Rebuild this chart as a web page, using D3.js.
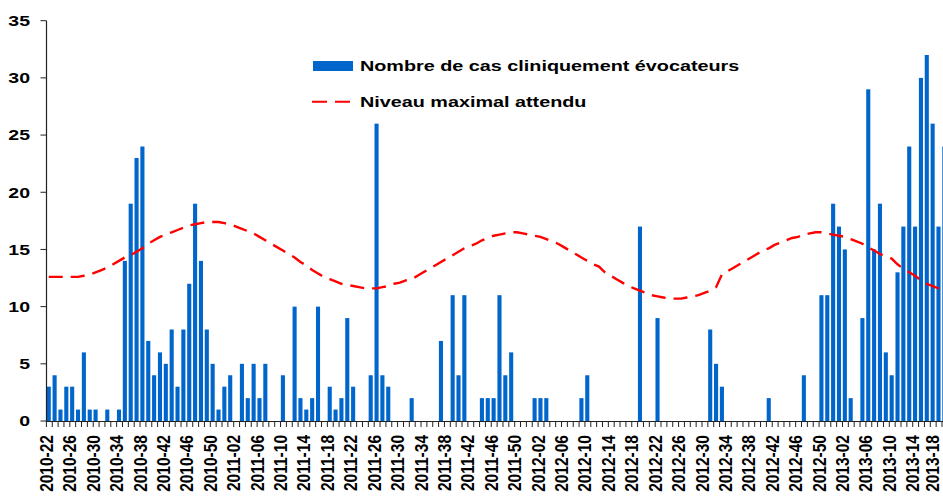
<!DOCTYPE html>
<html>
<head>
<meta charset="utf-8">
<script src="https://cdn.jsdelivr.net/npm/d3@7"></script>
<style>
  html, body { margin: 0; padding: 0; background: #fff; }
  svg { display: block; font-family: "Liberation Sans", Arial, sans-serif; font-weight: bold; }
</style>
</head>
<body>
<svg id="chart" width="943" height="496"></svg>
<script>
// ---- Data ----
const weekRanges = [[2010, 22, 52], [2011, 1, 52], [2012, 1, 52], [2013, 1, 19]];

const cases2010 = [3,4,1,3,3,1,6,1,1,0,1,0,1,14,19,23,24,7,4,6,5,8,3,8,12,19,14,8,5,1,3];
const cases2011 = [4,0,5,2,5,2,5,0,0,4,0,10,2,1,2,10,0,3,1,2,9,3,0,0,4,26,4,3,0,0,0,2,0,0,0,0,7,0,11,4,11,0,0,2,2,2,11,4,6,0,0,0];
const cases2012 = [2,2,2,0,0,0,0,0,2,4,0,0,0,0,0,0,0,0,17,0,0,9,0,0,0,0,0,0,0,0,8,5,3,0,0,0,0,0,0,0,2,0,0,0,0,0,4,0,0,11,11,19];
const cases2013 = [17,15,2,0,9,29,15,19,6,4,13,17,24,17,30,32,26,17,24];

const seuil2010 = [12.6,12.6,12.6,12.6,12.6,12.6,12.7,12.8,13.0,13.2,13.4,13.7,14.0,14.3,14.5,14.8,15.1,15.5,15.8,16.1,16.3,16.5,16.7,16.9,17.1,17.2,17.3,17.4,17.4,17.4,17.3];
const seuil2011 = [17.2,17.0,16.8,16.6,16.4,16.1,15.8,15.5,15.2,14.9,14.6,14.3,13.9,13.6,13.2,12.9,12.6,12.4,12.2,12.0,11.9,11.8,11.7,11.6,11.6,11.6,11.7,11.8,12.0,12.1,12.3,12.4,12.7,13.0,13.3,13.6,13.9,14.2,14.5,14.8,15.1,15.3,15.5,15.8,16.0,16.2,16.3,16.4,16.5,16.5,16.4,16.3];
const seuil2012 = [16.2,16.1,15.9,15.7,15.5,15.2,14.9,14.6,14.3,14.0,13.7,13.5,13.0,12.7,12.4,12.1,11.8,11.6,11.4,11.2,11.0,10.9,10.8,10.7,10.7,10.7,10.8,10.9,11.0,11.2,11.4,11.7,12.8,13.1,13.4,13.7,14.0,14.3,14.6,14.9,15.1,15.4,15.6,15.8,16.0,16.1,16.3,16.4,16.5,16.5,16.4,16.3];
const seuil2013 = [16.2,16.1,15.9,15.7,15.5,15.2,14.9,14.6,14.4,14.2,13.7,13.3,13.0,12.7,12.3,12.0,11.8,11.6,11.4];

const yTicks = [0,5,10,15,20,25,30,35];
const tickLabels = ["2010-22","2010-26","2010-30","2010-34","2010-38","2010-42","2010-46","2010-50",
  "2011-02","2011-06","2011-10","2011-14","2011-18","2011-22","2011-26","2011-30","2011-34","2011-38","2011-42","2011-46","2011-50",
  "2012-02","2012-06","2012-10","2012-14","2012-18","2012-22","2012-26","2012-30","2012-34","2012-38","2012-42","2012-46","2012-50",
  "2013-02","2013-06","2013-10","2013-14","2013-18"];

const legendLabels = ["Nombre de cas cliniquement évocateurs", "Niveau maximal attendu"];

// ---- Build table ----
const weeks = [];
weekRanges.forEach(([y, a, b]) => { for (let w = a; w <= b; w++) weeks.push(y + "-" + String(w).padStart(2, "0")); });
const cases = [].concat(cases2010, cases2011, cases2012, cases2013);
const seuil = [].concat(seuil2010, seuil2011, seuil2012, seuil2013);
const data = weeks.map((w, i) => ({ week: w, cases: cases[i], seuil: seuil[i] }));

// ---- Chart ----
const W = 943;
const svg = d3.select("#chart");
const blue = "#0066cc";

const x = d3.scaleBand().domain(weeks).range([46, 947.1]).paddingInner(0.3).paddingOuter(0.12).align(0.5);
const y = d3.scaleLinear().domain([0, 35]).range([421, 20.7]);

// bars
svg.append("g").selectAll("rect").data(data.filter(d => d.cases > 0)).join("rect")
  .attr("x", d => x(d.week))
  .attr("y", d => y(d.cases))
  .attr("width", x.bandwidth())
  .attr("height", d => y(0) - y(d.cases))
  .attr("fill", blue);

// threshold line
const line = d3.line().x(d => x(d.week) + x.bandwidth() / 2).y(d => y(d.seuil));
svg.append("path").datum(data).attr("d", line)
  .attr("fill", "none").attr("stroke", "#ff0000").attr("stroke-width", 2.4)
  .attr("stroke-dasharray", "14,8");

// y axis
const gy = svg.append("g");
gy.append("line").attr("x1", 46.5).attr("x2", 46.5).attr("y1", y(35)).attr("y2", y(0)).attr("stroke", "#222").attr("stroke-width", 1.2);
gy.selectAll("line.t").data(yTicks).join("line").attr("class", "t")
  .attr("x1", 40.5).attr("x2", 46.5).attr("y1", d => y(d)).attr("y2", d => y(d)).attr("stroke", "#222");
gy.selectAll("text").data(yTicks).join("text")
  .attr("transform", d => `translate(30,${y(d)}) scale(1.3,1)`)
  .attr("text-anchor", "end").attr("dy", "0.36em")
  .attr("font-size", 15).attr("fill", "#000")
  .text(d => d);

// x axis
const gx = svg.append("g");
gx.append("line").attr("x1", 46).attr("x2", W).attr("y1", 421.5).attr("y2", 421.5).attr("stroke", "#222").attr("stroke-width", 1.2);
gx.selectAll("line.t").data(weeks).join("line").attr("class", "t")
  .attr("x1", d => x(d) - 0.3).attr("x2", d => x(d) - 0.3)
  .attr("y1", 421).attr("y2", 427).attr("stroke", "#222");
gx.selectAll("text").data(tickLabels).join("text")
  .attr("transform", d => `translate(${Math.min(x(d) + x.bandwidth() / 2 - 2.2, W - 10.5)},435) scale(1.14,1) rotate(-90)`)
  .attr("text-anchor", "end").attr("dy", "0.36em")
  .attr("font-size", 15.5).attr("fill", "#000")
  .text(d => d);

// legend
const lg = svg.append("g");
lg.append("rect").attr("x", 313).attr("y", 61).attr("width", 40).attr("height", 10).attr("fill", blue);
lg.append("line").attr("x1", 312).attr("x2", 350).attr("y1", 101.7).attr("y2", 101.7)
  .attr("stroke", "#ff0000").attr("stroke-width", 2).attr("stroke-dasharray", "15,8");
lg.selectAll("text").data(legendLabels).join("text")
  .attr("transform", (d, i) => `translate(360,${i === 0 ? 70.5 : 107}) scale(1.32,1)`)
  .attr("font-size", 15).attr("fill", "#000")
  .text(d => d);
</script>
</body>
</html>
